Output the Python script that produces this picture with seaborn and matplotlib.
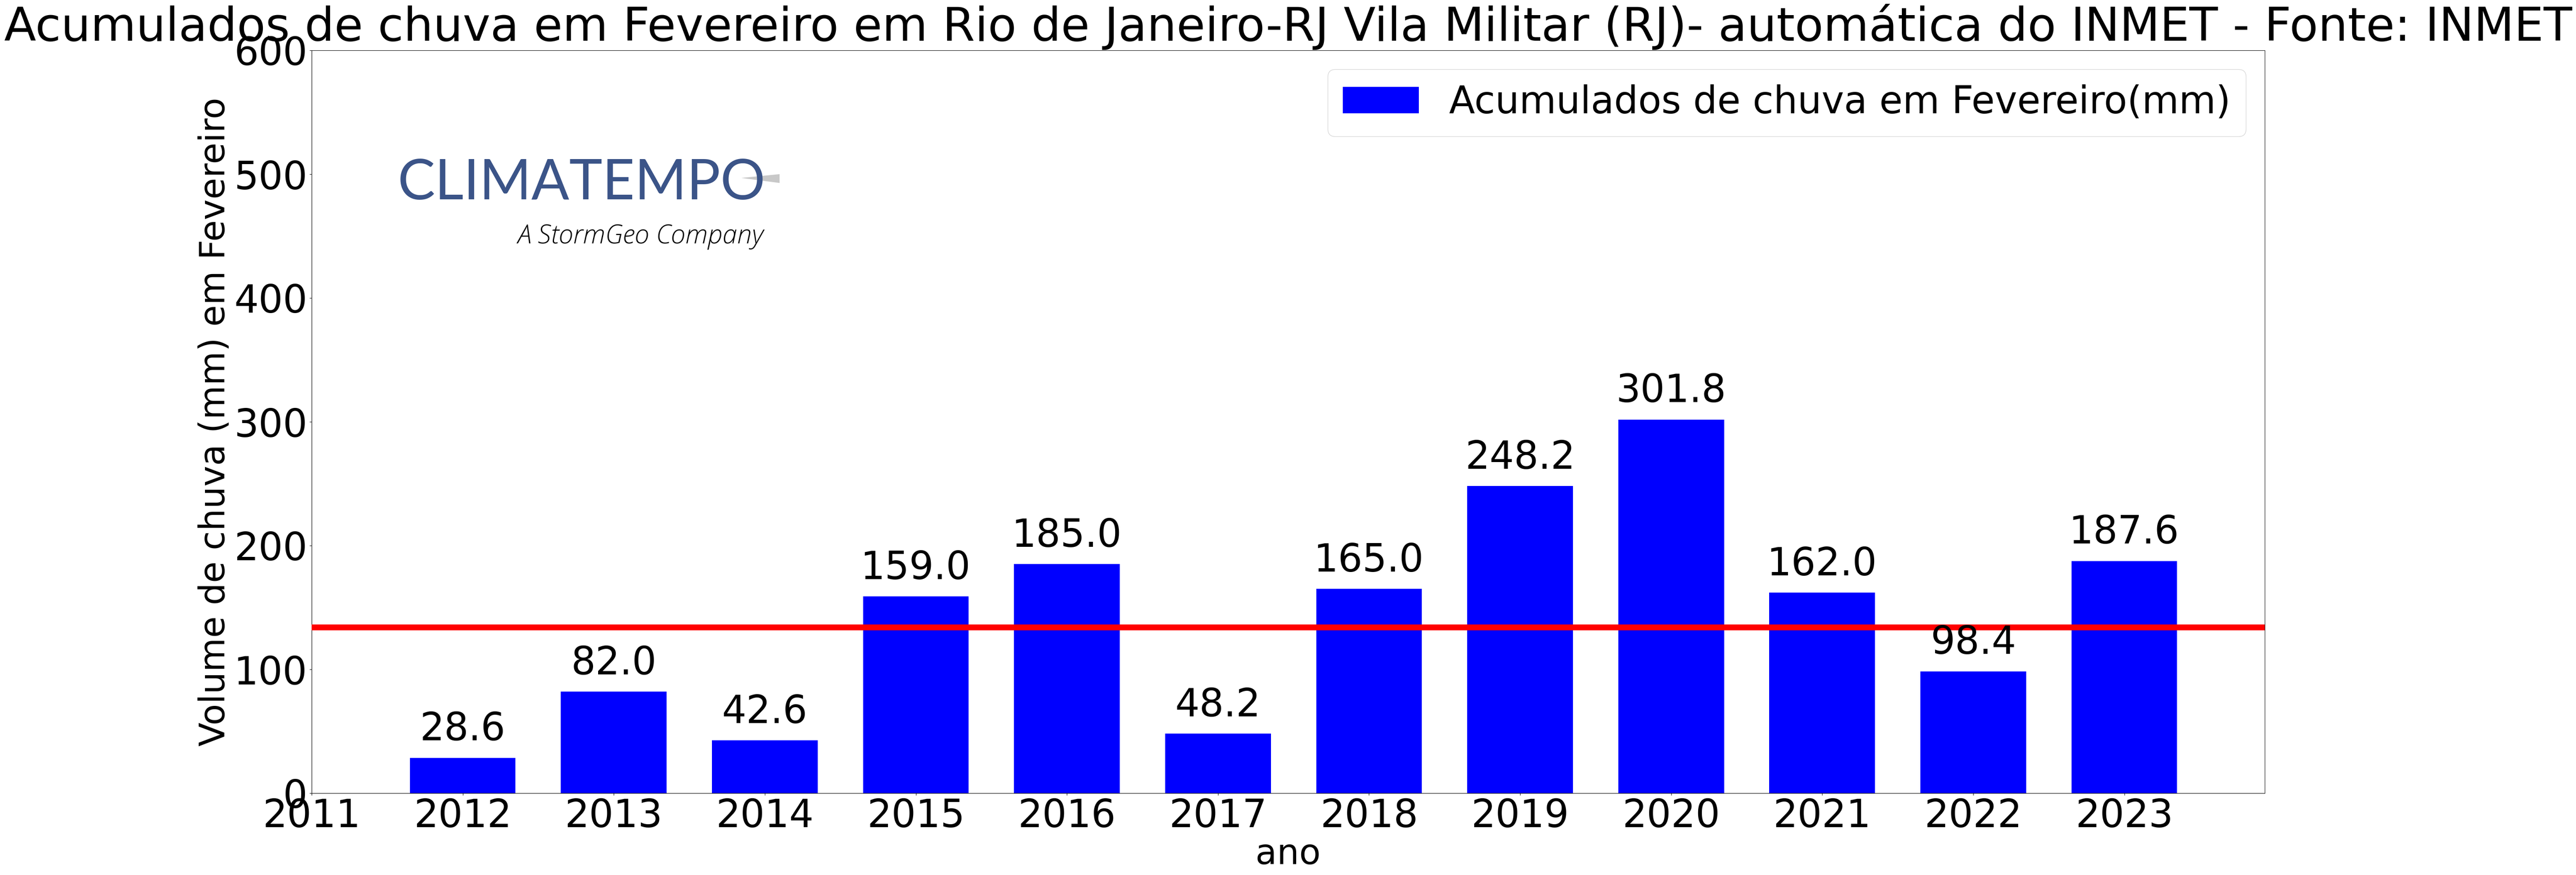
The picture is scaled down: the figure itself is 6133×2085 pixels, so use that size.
import matplotlib
matplotlib.use("Agg")
import matplotlib.pyplot as plt
from matplotlib.patches import Polygon
import seaborn as sns
import pandas as pd

years = [2012, 2013, 2014, 2015, 2016, 2017, 2018, 2019, 2020, 2021, 2022, 2023]
rain = [28.6, 82.0, 42.6, 159.0, 185.0, 48.2, 165.0, 248.2, 301.8, 162.0, 98.4, 187.6]
mean_rain = 134
tick_years = [2011] + years
title = "Acumulados de chuva em Fevereiro em Rio de Janeiro-RJ Vila Militar (RJ)- automática do INMET - Fonte: INMET"
series_name = "Acumulados de chuva em Fevereiro(mm)"

W, H = 6133, 2085
sns.set_style("white")
plt.rcParams["font.family"] = ["DejaVu Sans"]
plt.rcParams["text.color"] = "black"
plt.rcParams["axes.labelcolor"] = "black"
plt.rcParams["xtick.color"] = "black"
plt.rcParams["ytick.color"] = "black"
plt.rcParams["axes.titlecolor"] = "black"
fig = plt.figure(figsize=(W/100, H/100), dpi=100)
ax = fig.add_axes([742/W, 1-1890/H, (5392-742)/W, (1890-120)/H])
df = pd.DataFrame({"ano": years, "chuva": rain})
sns.barplot(data=df, x="ano", y="chuva", native_scale=True, width=0.7, color="#0000ff",
            saturation=1, label=series_name, ax=ax, errorbar=None, linewidth=0)
ax.axhline(mean_rain, color="#ff0000", lw=10, zorder=5)
ax.set_xlim(2011, 2023.93)
ax.set_ylim(0, 600)
ax.set_xticks(tick_years)
ax.set_xticklabels([str(y) for y in tick_years])
ax.set_yticks(range(0, 601, 100))
ax.tick_params(axis="both", labelsize=66, length=3.5, width=0.8, color="black", bottom=True, left=True)
for s in ax.spines.values():
    s.set_visible(True); s.set_color("black"); s.set_linewidth(0.8)
ax.set_xlabel("ano", fontsize=60)
ax.set_ylabel("Volume de chuva (mm) em Fevereiro", fontsize=60)
ax.set_title(title, fontsize=80, pad=16.5)
for y, v in zip(years, rain):
    ax.annotate(f"{v:.1f}", (y, v), xytext=(0, 16), textcoords="offset points", ha="center", va="bottom", fontsize=66, zorder=6)
ax.legend(loc="upper right", fontsize=65, frameon=True)

fig.text(1385/W, 1-475/H, "CLIMATEMPO", family=["Lato", "DejaVu Sans"], weight="normal", fontsize=96, color="#3b5488", ha="center", va="baseline")
fig.text(1525/W, 1-580/H, "A StormGeo Company", family="Open Sans", style="italic", weight="light", fontsize=45, color="black", ha="center", va="baseline")
fig.add_artist(Polygon([[1765/W, 1-424/H], [1856/W, 1-415/H], [1856/W, 1-436/H]], transform=fig.transFigure, color="#c8c8c8", lw=0))
fig.savefig("out.png", dpi=100)
